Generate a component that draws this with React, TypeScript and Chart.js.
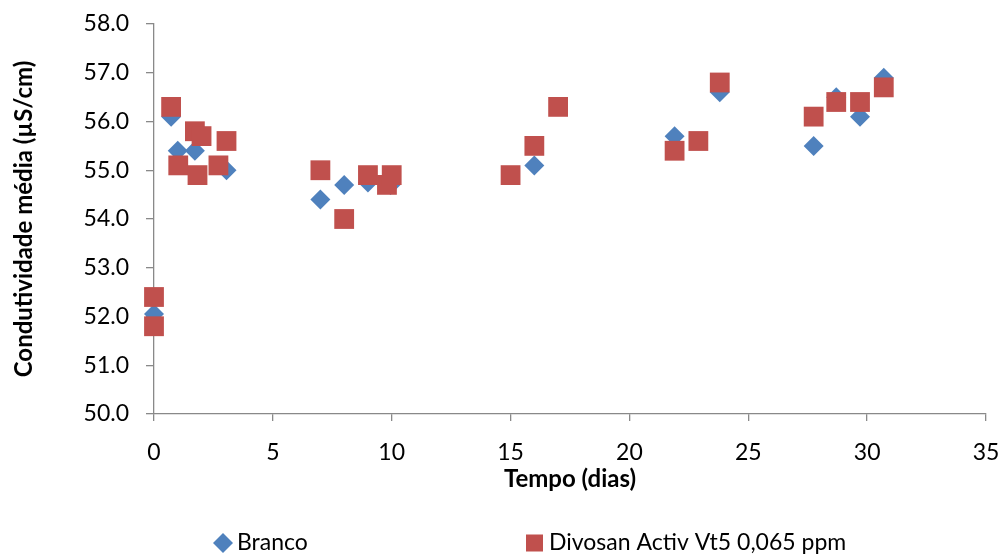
import React, { useEffect, useRef } from "react";
import { Chart, registerables } from "chart.js";

Chart.register(...registerables);

const seriesNames = ["Branco", "Divosan Activ Vt5 0,065 ppm"];
const brancoX = [0, 0.72, 1.0, 1.72, 3.05, 7, 8, 9, 9.95, 16, 21.9, 23.8, 27.75, 28.7, 29.7, 30.7];
const brancoY = [52.05, 56.1, 55.4, 55.4, 55.0, 54.4, 54.7, 54.75, 54.7, 55.1, 55.7, 56.6, 55.5, 56.5, 56.1, 56.9];
const divosanX = [0, 0, 0.72, 1.02, 1.72, 1.83, 2.0, 2.71, 3.05, 7, 8, 9, 9.8, 10, 15, 16, 17, 21.9, 22.9, 23.8, 27.75, 28.7, 29.7, 30.7];
const divosanY = [52.4, 51.8, 56.3, 55.1, 55.8, 54.9, 55.7, 55.1, 55.6, 55.0, 54.0, 54.9, 54.7, 54.9, 54.9, 55.5, 56.3, 55.4, 55.6, 56.8, 56.1, 56.4, 56.4, 56.7];
const xTicks = [0, 5, 10, 15, 20, 25, 30, 35];
const yTicks = [50, 51, 52, 53, 54, 55, 56, 57, 58];
const xTitle = "Tempo (dias)";
const yTitle = "Condutividade média (µS/cm)";

const BLUE = "#4F81BD";
const RED = "#C0504D";
const AXIS = "#898989";
const FONT = "Lato, 'Open Sans', sans-serif";

const legendPlugin = {
  id: "customLegend",
  afterDraw(chart: any) {
    const ctx = chart.ctx;
    ctx.save();
    ctx.font = `23px ${FONT}`;
    ctx.textBaseline = "middle";
    ctx.textAlign = "left";
    const dy = 543;
    ctx.fillStyle = BLUE;
    ctx.beginPath();
    ctx.moveTo(223 - 10, dy);
    ctx.lineTo(223, dy - 10);
    ctx.lineTo(223 + 10, dy);
    ctx.lineTo(223, dy + 10);
    ctx.closePath();
    ctx.fill();
    ctx.fillStyle = "#000";
    ctx.fillText(seriesNames[0], 237, dy);
    ctx.fillStyle = RED;
    ctx.fillRect(526, dy - 8.5, 17, 17);
    ctx.fillStyle = "#000";
    ctx.fillText(seriesNames[1], 549, dy);
    ctx.restore();
  },
};

export default function App() {
  const ref = useRef<HTMLCanvasElement | null>(null);

  useEffect(() => {
    document.body.style.margin = "0";
    const canvas = ref.current;
    if (!canvas) return;
    const chart = new Chart(canvas, {
      type: "scatter",
      data: {
        datasets: [
          {
            label: seriesNames[0],
            data: brancoX.map((x, i) => ({ x, y: brancoY[i] })),
            pointStyle: "rectRot",
            pointRadius: 10,
            pointHoverRadius: 10,
            backgroundColor: BLUE,
            borderColor: BLUE,
            borderWidth: 0,
            clip: false,
            order: 2,
          },
          {
            label: seriesNames[1],
            data: divosanX.map((x, i) => ({ x, y: divosanY[i] })),
            pointStyle: "rect",
            pointRadius: 14,
            pointHoverRadius: 14,
            backgroundColor: RED,
            borderColor: RED,
            borderWidth: 0,
            clip: false,
            order: 1,
          },
        ],
      },
      options: {
        responsive: false,
        animation: false,
        layout: { padding: { left: 0, top: 24, right: 13, bottom: 60 } },
        plugins: {
          legend: { display: false },
          tooltip: { enabled: false },
        },
        scales: {
          x: {
            type: "linear",
            min: 0,
            max: 35,
            afterBuildTicks: (axis: any) => {
              axis.ticks = xTicks.map((v) => ({ value: v }));
            },
            afterFit: (axis: any) => {
              axis.height = 80;
              axis.paddingLeft = 0;
              axis.paddingRight = 0;
            },
            ticks: {
              color: "#000",
              font: { family: FONT, size: 23 },
              padding: 18,
              maxRotation: 0,
              callback: (v: any) => String(v),
            },
            grid: { drawOnChartArea: false, drawTicks: true, tickLength: 7, color: AXIS, lineWidth: 1.3 },
            border: { color: AXIS, width: 1.3 },
            title: {
              display: true,
              text: xTitle,
              color: "#000",
              font: { family: FONT, size: 24, weight: "bold" },
              padding: { top: 0, bottom: 0 },
            },
          },
          y: {
            type: "linear",
            min: 50,
            max: 58,
            afterBuildTicks: (axis: any) => {
              axis.ticks = yTicks.map((v) => ({ value: v }));
            },
            afterFit: (axis: any) => {
              axis.width = 154;
              axis.paddingTop = 0;
              axis.paddingBottom = 0;
            },
            ticks: {
              color: "#000",
              font: { family: FONT, size: 23 },
              padding: 17,
              callback: (v: any) => Number(v).toFixed(1),
            },
            grid: { drawOnChartArea: false, drawTicks: true, tickLength: 8, color: AXIS, lineWidth: 1.3 },
            border: { color: AXIS, width: 1.3 },
            title: {
              display: true,
              text: yTitle,
              color: "#000",
              font: { family: FONT, size: 24, weight: "bold" },
              padding: { top: 10, bottom: 0 },
            },
          },
        },
      },
      plugins: [legendPlugin],
    });
    return () => chart.destroy();
  }, []);

  return (
    <div style={{ width: 1000, height: 554, background: "#fff" }}>
      <canvas ref={ref} width={1000} height={554} />
    </div>
  );
}
